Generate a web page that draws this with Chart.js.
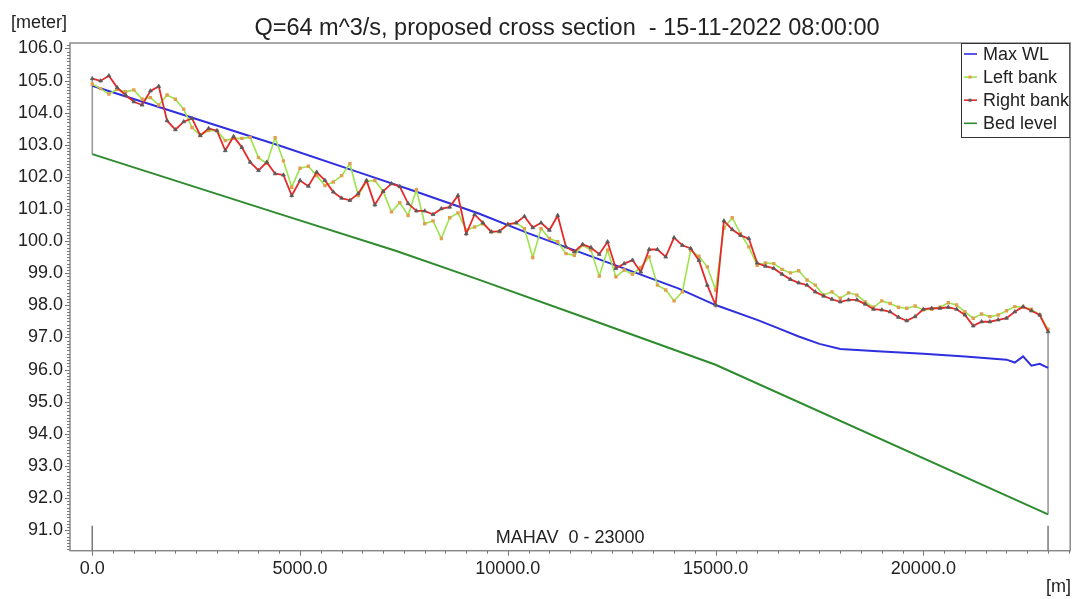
<!DOCTYPE html>
<html>
<head>
<meta charset="utf-8">
<script src="https://cdn.jsdelivr.net/npm/chart.js@4.4.1/dist/chart.umd.min.js"></script>
<style>
  html, body { margin: 0; padding: 0; background: #ffffff; }
  #wrap { width: 1075px; height: 599px; position: relative; }
</style>
</head>
<body>
<div id="wrap"><canvas id="c" width="1075" height="599"></canvas></div>
<script>
// Chainage of the cross sections along branch MAHAV [m]
const chainage = [
  0, 200, 400, 600, 800, 1000, 1200, 1400, 1600, 1800,
  2000, 2200, 2400, 2600, 2800, 3000, 3200, 3400, 3600, 3800,
  4000, 4200, 4400, 4600, 4800, 5000, 5200, 5400, 5600, 5800,
  6000, 6200, 6400, 6600, 6800, 7000, 7200, 7400, 7600, 7800,
  8000, 8200, 8400, 8600, 8800, 9000, 9200, 9400, 9600, 9800,
  10000, 10200, 10400, 10600, 10800, 11000, 11200, 11400, 11600, 11800,
  12000, 12200, 12400, 12600, 12800, 13000, 13200, 13400, 13600, 13800,
  14000, 14200, 14400, 14600, 14800, 15000, 15200, 15400, 15600, 15800,
  16000, 16200, 16400, 16600, 16800, 17000, 17200, 17400, 17600, 17800,
  18000, 18200, 18400, 18600, 18800, 19000, 19200, 19400, 19600, 19800,
  20000, 20200, 20400, 20600, 20800, 21000, 21200, 21400, 21600, 21800,
  22000, 22200, 22400, 22600, 22800, 23000
];

// Left bank level at each cross section [m]
const leftBank = [
  104.89, 104.75, 104.58, 104.73, 104.65, 104.71, 104.42, 104.47, 104.24, 104.55,
  104.42, 104.11, 103.54, 103.29, 103.44, 103.44, 103.13, 103.20, 103.20, 103.23,
  102.60, 102.42, 103.22, 102.50, 101.68, 102.27, 102.33, 102.04, 101.73, 101.84,
  102.04, 102.41, 101.42, 101.86, 101.89, 101.55, 100.91, 101.20, 100.80, 101.60,
  100.54, 100.63, 100.08, 100.73, 100.88, 100.34, 100.44, 100.54, 100.29, 100.29,
  100.52, 100.57, 100.39, 99.49, 100.39, 100.08, 99.98, 99.61, 99.56, 99.87,
  99.72, 98.91, 99.72, 98.89, 99.10, 98.97, 99.18, 99.51, 98.63, 98.48,
  98.14, 98.42, 99.72, 99.53, 99.20, 98.48, 100.41, 100.73, 100.23, 99.82,
  99.25, 99.32, 99.30, 99.12, 99.01, 99.08, 98.79, 98.63, 98.32, 98.42,
  98.22, 98.39, 98.32, 98.11, 97.94, 98.14, 98.06, 97.94, 97.91, 97.98,
  97.86, 97.88, 97.94, 98.08, 98.01, 97.80, 97.60, 97.73, 97.65, 97.70,
  97.83, 97.96, 97.94, 97.88, 97.70, 97.26
];

// Right bank level at each cross section [m]
const rightBank = [
  105.06, 104.99, 105.15, 104.78, 104.55, 104.34, 104.24, 104.68, 104.82, 103.75,
  103.47, 103.72, 103.82, 103.29, 103.51, 103.44, 102.82, 103.26, 102.92, 102.46,
  102.20, 102.46, 102.10, 102.06, 101.42, 101.89, 101.71, 102.15, 101.89, 101.53,
  101.34, 101.27, 101.48, 101.89, 101.13, 101.55, 101.79, 101.70, 101.17, 100.94,
  100.94, 100.83, 101.01, 101.06, 101.42, 100.23, 100.83, 100.57, 100.29, 100.31,
  100.52, 100.57, 100.77, 100.42, 100.57, 100.34, 100.80, 99.82, 99.67, 99.90,
  99.80, 99.59, 99.98, 99.15, 99.30, 99.41, 99.04, 99.74, 99.74, 99.51,
  100.11, 99.87, 99.77, 99.40, 98.63, 98.01, 100.63, 100.36, 100.18, 100.08,
  99.32, 99.22, 99.15, 98.97, 98.81, 98.70, 98.63, 98.42, 98.29, 98.19,
  98.11, 98.17, 98.17, 98.04, 97.88, 97.86, 97.80, 97.63, 97.52, 97.65,
  97.88, 97.91, 97.91, 97.94, 97.88, 97.70, 97.36, 97.49, 97.49, 97.55,
  97.60, 97.80, 97.96, 97.83, 97.70, 97.18
];

// Maximum water level profile
const wlChainage = [0, 4500, 6400, 7800, 9300, 10500, 14100, 15000, 16000, 16500, 17000, 17500,
                    18000, 19000, 20000, 21000, 22000, 22200, 22400, 22600, 22800, 23000];
const wlLevel    = [104.84, 102.98, 102.15, 101.54, 100.86, 100.24, 98.53, 98.01, 97.55, 97.29, 97.03, 96.80,
                    96.64, 96.56, 96.49, 96.41, 96.31, 96.22, 96.41, 96.12, 96.18, 96.05];

// Bed level profile
const bedChainage = [0, 4500, 7300, 9300, 12000, 15000, 23000];
const bedLevel    = [102.71, 100.85, 99.70, 98.80, 97.55, 96.15, 91.49];

// Axis ranges and tick labels
const xRange = [-536, 23533];
const yRange = [90.36, 106.17];
const xTicks = [0, 5000, 10000, 15000, 20000];
const yTicks = [91, 92, 93, 94, 95, 96, 97, 98, 99, 100, 101, 102, 103, 104, 105, 106];
const branchStart = 0, branchEnd = 23000;

const titleText = 'Q=64 m^3/s, proposed cross section  - 15-11-2022 08:00:00';
const branchLabel = 'MAHAV  0 - 23000';
const yUnit = '[meter]';
const xUnit = '[m]';
const seriesNames = ['Max WL', 'Left bank', 'Right bank', 'Bed level'];

const FONT = '"Liberation Sans", Arial, sans-serif';
const TXT = '#222222';

const C_WL = '#2f2fe0';
const C_LEFT = '#9be44c';
const C_LEFT_PT = '#e0a050';
const C_RIGHT = '#e42a2a';
const C_RIGHT_PT = '#5a5a5a';
const C_BED = '#2e8b2e';
const C_END = '#9a9a9a';

const pts = (xs, ys) => ys.map((v, i) => ({ x: xs[i], y: v }));

const n = chainage.length - 1;
const startEnd = [
  { x: chainage[0], y: bedLevel[0] },
  { x: chainage[0], y: Math.max(leftBank[0], rightBank[0]) }
];
const finishEnd = [
  { x: chainage[n], y: bedLevel[bedLevel.length - 1] },
  { x: chainage[n], y: Math.max(leftBank[n], rightBank[n]) }
];

const overlay = {
  id: 'overlay',
  afterDraw(chart) {
    const ctx = chart.ctx;
    const a = chart.chartArea;
    const xs = chart.scales.x, ys = chart.scales.y;
    ctx.save();

    // plot frame
    ctx.strokeStyle = '#8a8a8a';
    ctx.lineWidth = 1.5;
    ctx.strokeRect(a.left, a.top, a.right - a.left, a.bottom - a.top);

    // y minor/major tick marks
    ctx.strokeStyle = '#777';
    ctx.lineWidth = 1;
    for (let k = Math.ceil(yRange[0] * 10); k <= Math.floor(yRange[1] * 10); k++) {
      const py = Math.round(ys.getPixelForValue(k / 10)) + 0.5;
      const len = (k % 10 === 0) ? 5 : 3;
      ctx.beginPath();
      ctx.moveTo(a.left - len, py);
      ctx.lineTo(a.left, py);
      ctx.stroke();
    }
    // x tick marks every 500 m
    for (let v = 0; v <= xRange[1]; v += 500) {
      const px = Math.round(xs.getPixelForValue(v)) + 0.5;
      const len = (v % 5000 === 0) ? 5 : 3;
      ctx.beginPath();
      ctx.moveTo(px, a.bottom);
      ctx.lineTo(px, a.bottom + len);
      ctx.stroke();
    }

    // branch extent markers
    ctx.strokeStyle = '#777';
    ctx.lineWidth = 1.5;
    [branchStart, branchEnd].forEach(v => {
      const px = xs.getPixelForValue(v);
      ctx.beginPath();
      ctx.moveTo(px, a.bottom);
      ctx.lineTo(px, a.bottom - 25);
      ctx.stroke();
    });

    ctx.fillStyle = TXT;
    ctx.textBaseline = 'alphabetic';

    // branch label
    ctx.font = '18px ' + FONT;
    ctx.textAlign = 'center';
    const mid = (xs.getPixelForValue(branchStart) + xs.getPixelForValue(branchEnd)) / 2;
    ctx.fillText(branchLabel, mid, a.bottom - 7.5);

    // title
    ctx.font = '23.5px ' + FONT;
    ctx.textAlign = 'center';
    ctx.fillText(titleText, 567, 35);

    // units
    ctx.font = '18px ' + FONT;
    ctx.textAlign = 'left';
    ctx.fillText(yUnit, 11, 28);
    ctx.textAlign = 'right';
    ctx.fillText(xUnit, 1071, 592);

    // legend
    const lx = 961, ly = a.top, lw = a.right - 961, lh = 95;
    ctx.fillStyle = '#ffffff';
    ctx.fillRect(lx, ly, lw, lh);
    ctx.strokeStyle = '#333';
    ctx.lineWidth = 1;
    ctx.strokeRect(lx + 0.5, ly + 0.5, lw - 1, lh - 1);
    const cols = [C_WL, C_LEFT, C_RIGHT, C_BED];
    const marks = [null, C_LEFT_PT, C_RIGHT_PT, null];
    ctx.font = '18px ' + FONT;
    ctx.textAlign = 'left';
    seriesNames.forEach((name, i) => {
      const base = 60 + i * 23.1;
      const cy = base - 6;
      ctx.strokeStyle = cols[i];
      ctx.lineWidth = 1.6;
      ctx.beginPath();
      ctx.moveTo(964, cy);
      ctx.lineTo(977, cy);
      ctx.stroke();
      if (marks[i]) {
        ctx.fillStyle = marks[i];
        ctx.fillRect(968.5, cy - 1.5, 3, 3);
      }
      ctx.fillStyle = TXT;
      ctx.fillText(name, 983, base);
    });

    ctx.restore();
  }
};

new Chart(document.getElementById('c'), {
  type: 'line',
  data: {
    datasets: [
      {
        label: seriesNames[2], data: pts(chainage, rightBank), order: 0,
        borderColor: C_RIGHT, borderWidth: 1.8,
        pointStyle: 'triangle', pointRadius: 2.2, pointBorderWidth: 0.8,
        pointBackgroundColor: C_RIGHT_PT, pointBorderColor: C_RIGHT_PT
      },
      {
        label: seriesNames[1], data: pts(chainage, leftBank), order: 1,
        borderColor: C_LEFT, borderWidth: 1.6,
        pointStyle: 'rect', pointRadius: 2.4, pointBorderWidth: 0,
        pointBackgroundColor: C_LEFT_PT, pointBorderColor: C_LEFT_PT
      },
      {
        label: seriesNames[0], data: pts(wlChainage, wlLevel), order: 2,
        borderColor: C_WL, borderWidth: 2, pointRadius: 0
      },
      {
        label: seriesNames[3], data: pts(bedChainage, bedLevel), order: 3,
        borderColor: C_BED, borderWidth: 2, pointRadius: 0
      },
      {
        label: 'start', data: startEnd, order: 4,
        borderColor: C_END, borderWidth: 1.6, pointRadius: 0
      },
      {
        label: 'end', data: finishEnd, order: 4,
        borderColor: C_END, borderWidth: 1.6, pointRadius: 0
      }
    ]
  },
  options: {
    responsive: false,
    animation: false,
    events: [],
    layout: { padding: { top: 43, right: 3.5, left: 0, bottom: 0 } },
    elements: { line: { tension: 0, fill: false } },
    plugins: { legend: { display: false }, title: { display: false }, tooltip: { enabled: false } },
    scales: {
      x: {
        type: 'linear', min: xRange[0], max: xRange[1],
        afterBuildTicks: s => { s.ticks = xTicks.map(v => ({ value: v })); },
        afterFit: s => { s.height = 48.3; s.paddingLeft = 0; s.paddingRight = 0; },
        grid: { display: false, drawTicks: false },
        border: { display: false },
        ticks: {
          autoSkip: false, maxRotation: 0, minRotation: 0,
          padding: 8, color: TXT, font: { family: FONT, size: 18 },
          callback: v => Number(v).toFixed(1)
        }
      },
      y: {
        type: 'linear', min: yRange[0], max: yRange[1],
        afterBuildTicks: s => { s.ticks = yTicks.map(v => ({ value: v })); },
        afterFit: s => { s.width = 70; s.paddingTop = 0; s.paddingBottom = 0; },
        grid: { display: false, drawTicks: false },
        border: { display: false },
        ticks: {
          autoSkip: false,
          padding: 7, color: TXT, font: { family: FONT, size: 18 },
          callback: v => Number(v).toFixed(1)
        }
      }
    }
  },
  plugins: [overlay]
});
</script>
</body>
</html>
